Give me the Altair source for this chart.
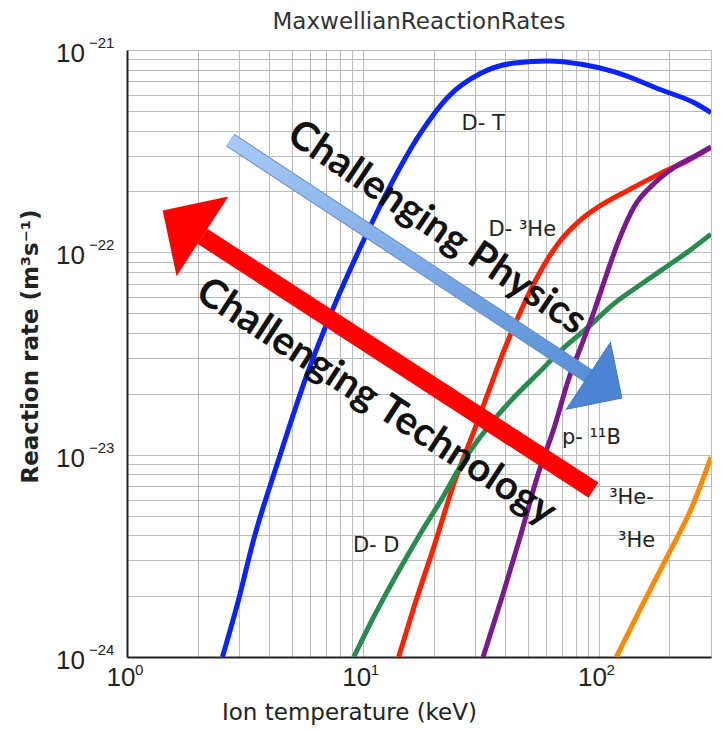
import altair as alt
import pandas as pd

# ---------------- data ----------------
dt_T = [2.54, 2.97, 3.44, 4.39, 5.83, 7.53, 10.1, 12.8, 17.6, 23.0, 31.8, 43.9, 61.3, 84.7, 117, 185, 256, 300]
dt_R = [1.0e-24, 1.91e-24, 3.78e-24, 9.4e-24, 2.53e-23, 5.37e-23, 1.15e-22, 2.03e-22, 3.89e-22, 5.86e-22,
        7.69e-22, 8.62e-22, 8.83e-22, 8.5e-22, 7.8e-22, 6.34e-22, 5.47e-22, 4.9e-22]

dhe_T = [14.2, 16.5, 20.0, 24.4, 29.7, 34.0, 39.8, 47.0, 55.6, 67.6, 84.7, 106, 134, 185, 242, 300]
dhe_R = [1.0e-24, 1.77e-24, 3.49e-24, 7.24e-24, 1.32e-23, 2.02e-23, 3.29e-23, 5.19e-23, 7.73e-23, 1.11e-22,
         1.46e-22, 1.75e-22, 2.03e-22, 2.47e-22, 2.86e-22, 3.30e-22]

dd_T = [9.16, 11.1, 14.5, 17.6, 21.5, 26.9, 34.0, 42.7, 55.6, 69.6, 90.6, 117, 152, 185, 242, 300]
dd_R = [1.0e-24, 1.57e-24, 2.78e-24, 4.09e-24, 5.97e-24, 9.4e-24, 1.37e-23, 1.86e-23, 2.53e-23, 3.29e-23,
        4.28e-23, 5.61e-23, 6.97e-23, 8.17e-23, 1.015e-22, 1.23e-22]

pb_T = [32.4, 39.8, 47.0, 55.6, 65.0, 74.5, 84.7, 96.2, 108, 122, 142, 173, 211, 256, 300]
pb_R = [1.0e-24, 2.14e-24, 4.09e-24, 8.11e-24, 1.37e-23, 2.34e-23, 3.48e-23, 5.19e-23, 7.73e-23, 1.15e-22,
        1.69e-22, 2.20e-22, 2.64e-22, 2.99e-22, 3.32e-22]

hehe_T = [119, 152, 199, 249, 300]
hehe_R = [1.0e-24, 1.77e-24, 3.26e-24, 5.51e-24, 9.73e-24]

series_names = ["D-T", "D-3He", "D-D", "p-11B", "3He-3He"]
series_colors = ["#0b24ff", "#ff2200", "#2b8a50", "#7a1a8e", "#ff8a00"]

# curve labels
lab_text = ["D- T", "D- ³He", "p- ¹¹B", "³He-", "³He", "D- D"]
lab_T = [32.4, 47.5, 93.3, 138, 145, 11.4]
lab_R = [4.30e-22, 1.29e-22, 1.21e-23, 6.1e-24, 3.74e-24, 3.53e-24]

# arrows (tail -> head base), arrow heads and their captions
blue_T = [2.74, 90.6]
blue_R = [3.59e-22, 2.45e-23]
red_T = [95.2, 2.09]
red_R = [6.68e-24, 1.20e-22]
head_T = [90.6, 2.09]
head_R = [2.45e-23, 1.20e-22]
caption_text = ["Challenging Physics", "Challenging Technology"]
caption_T = [20.6, 11.4]
caption_R = [1.32e-22, 1.82e-23]

# axes
grid_x = [1, 2, 3, 4, 5, 6, 7, 8, 9, 10, 20, 30, 40, 50, 60, 70, 80, 90, 100, 200, 300]
grid_y = [1e-24, 2e-24, 3e-24, 4e-24, 5e-24, 6e-24, 7e-24, 8e-24, 9e-24,
          1e-23, 2e-23, 3e-23, 4e-23, 5e-23, 6e-23, 7e-23, 8e-23, 9e-23,
          1e-22, 2e-22, 3e-22, 4e-22, 5e-22, 6e-22, 7e-22, 8e-22, 9e-22, 1e-21]
x_major = [1, 10, 100]
x_exp = ["0", "1", "2"]
y_major = [1e-24, 1e-23, 1e-22, 1e-21]
y_exp = ["\u221224", "\u221223", "\u221222", "\u221221"]

# ---------------- tables ----------------
rows = []
for name, T, R in zip(series_names, [dt_T, dhe_T, dd_T, pb_T, hehe_T], [dt_R, dhe_R, dd_R, pb_R, hehe_R]):
    for i, (t, r) in enumerate(zip(T, R)):
        rows.append({"series": name, "T": t, "R": r, "i": i})
curves = pd.DataFrame(rows)
labels = pd.DataFrame({"T": lab_T, "R": lab_R, "text": lab_text})
blue = pd.DataFrame({"T": blue_T, "R": blue_R, "i": [0, 1]})
red = pd.DataFrame({"T": red_T, "R": red_R, "i": [0, 1]})
heads = pd.DataFrame({"T": head_T, "R": head_R, "which": ["physics", "technology"]})
captions = pd.DataFrame({"T": caption_T, "R": caption_R, "text": caption_text})
xlab = pd.DataFrame({"T": x_major, "base": ["10"] * 3, "exp": x_exp})
ylab = pd.DataFrame({"R": y_major, "base": ["10"] * 4, "exp": y_exp})

xscale = alt.Scale(type="log", domain=[1, 300], nice=False)
yscale = alt.Scale(type="log", domain=[1e-24, 1e-21], nice=False)

x_axis = alt.Axis(values=grid_x, grid=True, gridColor="#bcbcbc", gridWidth=1, labels=False, ticks=False,
                  domainColor="#222", domainWidth=2, title="Ion temperature (keV)",
                  titleFont="DejaVu Sans", titleFontSize=23, titleFontWeight="normal",
                  titleColor="#222", titlePadding=44, titleX=222, titleAlign="center")
y_axis = alt.Axis(values=grid_y, grid=True, gridColor="#bcbcbc", gridWidth=1, labels=False, ticks=False,
                  domainColor="#222", domainWidth=2, title="Reaction rate (m³s⁻¹)",
                  titleFont="DejaVu Sans", titleFontSize=23, titleFontWeight="bold",
                  titleColor="#222", titleAngle=270, titleX=-97, titleY=296,
                  titleAlign="center", titleBaseline="middle")


def X():
    return alt.X("T:Q", scale=xscale, axis=x_axis)


def Y():
    return alt.Y("R:Q", scale=yscale, axis=y_axis)


lines = alt.Chart(curves).mark_line(strokeWidth=5, interpolate="monotone", clip=True).encode(
    x=X(), y=Y(),
    color=alt.Color("series:N", scale=alt.Scale(domain=series_names, range=series_colors), legend=None),
    order="i:Q",
)

curve_labels = alt.Chart(labels).mark_text(font="DejaVu Sans", fontSize=21, color="#222").encode(
    x=X(), y=Y(), text="text:N")

blue_edge = alt.Chart(blue).mark_line(strokeWidth=15, color="#6a8ec4", strokeCap="butt").encode(
    x=X(), y=Y(), order="i:Q")
blue_shaft = alt.Chart(blue).mark_line(
    strokeWidth=13, strokeCap="butt",
    stroke=alt.LinearGradient(gradient="linear",
                              stops=[alt.GradientStop(color="#a6c9f6", offset=0),
                                     alt.GradientStop(color="#5a8fd8", offset=1)],
                              x1=0, x2=1, y1=0, y2=1),
).encode(x=X(), y=Y(), order="i:Q")
red_shaft = alt.Chart(red).mark_line(strokeWidth=18, color="#ff0000", strokeCap="butt").encode(
    x=X(), y=Y(), order="i:Q")

head_path = "M0,-1L1,0L-1,0Z"
blue_head = alt.Chart(heads).transform_filter(alt.datum.which == "physics").mark_point(
    shape=head_path, size=6400, filled=True, fill="#4d84d3", stroke="#4276c2", strokeWidth=1,
    opacity=1, angle=123.4).encode(x=X(), y=Y())
red_head = alt.Chart(heads).transform_filter(alt.datum.which == "technology").mark_point(
    shape=head_path, size=9025, filled=True, fill="#ff0000", opacity=1, angle=303).encode(x=X(), y=Y())

cap_phys = alt.Chart(captions).transform_filter(alt.datum.text == "Challenging Physics").mark_text(
    font="Lato", fontWeight="bold", fontSize=40, angle=34, color="#111").encode(x=X(), y=Y(), text="text:N")
cap_tech = alt.Chart(captions).transform_filter(alt.datum.text == "Challenging Technology").mark_text(
    font="Lato", fontWeight="bold", fontSize=40, angle=33, color="#111").encode(x=X(), y=Y(), text="text:N")

ylab_base = alt.Chart(ylab).mark_text(font="Liberation Sans", fontSize=26, align="right", baseline="middle",
                                      dy=4, color="#222").encode(y=Y(), x=alt.value(-42), text="base:N")
ylab_exp = alt.Chart(ylab).mark_text(font="Liberation Sans", fontSize=15, align="left", baseline="middle",
                                     dy=-7, color="#222").encode(y=Y(), x=alt.value(-38), text="exp:N")
xlab_base = alt.Chart(xlab).mark_text(font="Liberation Sans", fontSize=26, align="center", baseline="middle",
                                      dx=-6, color="#222").encode(x=X(), y=alt.value(628), text="base:N")
xlab_exp = alt.Chart(xlab).mark_text(font="Liberation Sans", fontSize=15, align="left", baseline="middle",
                                     dx=8, color="#222").encode(x=X(), y=alt.value(620), text="exp:N")

chart = alt.layer(
    lines, blue_edge, blue_shaft, blue_head, red_shaft, red_head,
    curve_labels, cap_phys, cap_tech, ylab_base, ylab_exp, xlab_base, xlab_exp,
).properties(
    width=584, height=607,
    title=alt.TitleParams("MaxwellianReactionRates", font="DejaVu Sans", fontSize=23,
                          fontWeight="normal", color="#333", anchor="middle", offset=2),
    autosize=alt.AutoSizeParams(type="none"),
    padding={"left": 119, "top": 42, "right": 5, "bottom": 70},
).configure_view(stroke="#999", strokeWidth=1).configure(background="white")

chart.save("out.html", embed_options={"renderer": "svg", "actions": False})
